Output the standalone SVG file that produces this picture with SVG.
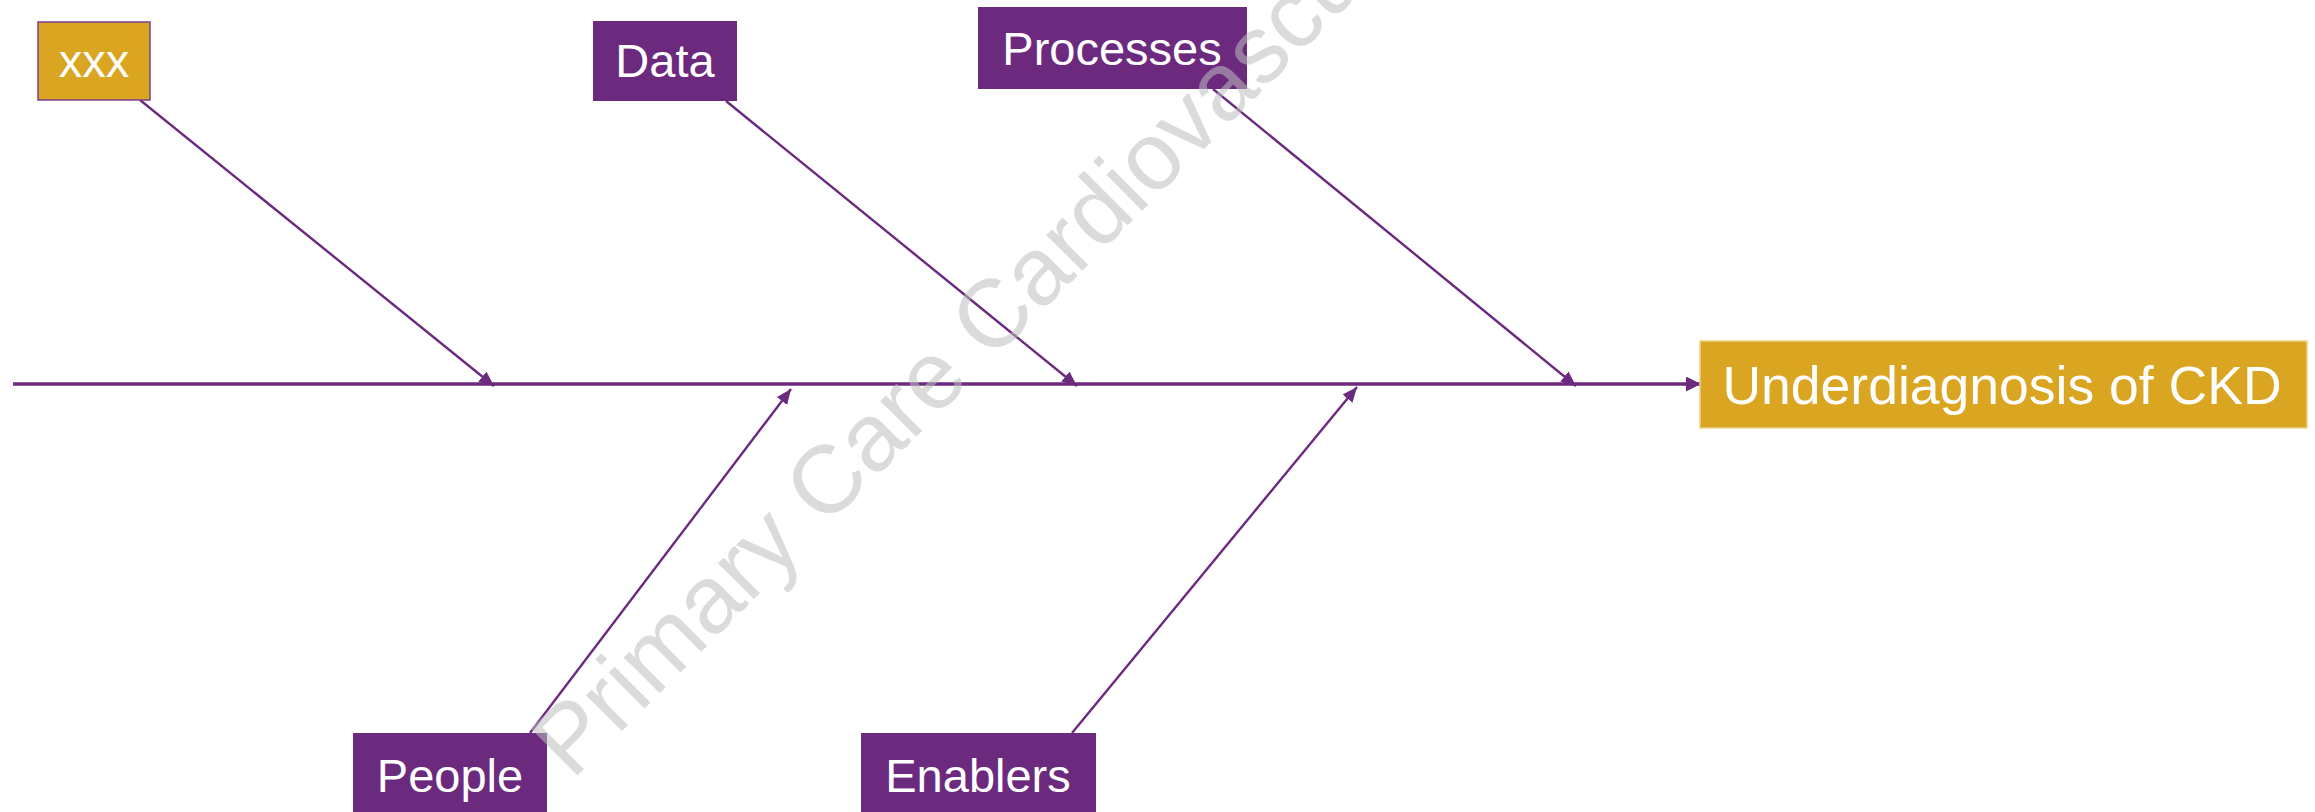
<svg xmlns="http://www.w3.org/2000/svg" width="2315" height="812" viewBox="0 0 2315 812">
<style>
  .purple { fill: #6C2A7F; }
  .gold { fill: #DAA520; }
  .lbl { font-family: "Liberation Sans", Arial, sans-serif; font-size: 47px; fill: #FFFFFF; text-anchor: middle; }
  .conn { stroke: #6C2A7F; fill: none; stroke-width: 2.4; }
  .spine { stroke: #6C2A7F; fill: none; stroke-width: 3.5; }
  .wm { font-family: "Liberation Sans", Arial, sans-serif; font-size: 96px; fill: #BDBDBD; fill-opacity: 0.55; }
</style>
<defs>
  <marker id="ah" markerUnits="userSpaceOnUse" markerWidth="16" markerHeight="14" refX="15" refY="6.5" orient="auto">
    <path d="M0,0 L15,6.5 L0,13 z" fill="#6C2A7F"/>
  </marker>
  <marker id="ahs" markerUnits="userSpaceOnUse" markerWidth="16" markerHeight="16" refX="15" refY="7.5" orient="auto">
    <path d="M0,0 L15,7.5 L0,15 z" fill="#6C2A7F"/>
  </marker>
</defs>
<rect width="2315" height="812" fill="#FFFFFF"/>
<g id="connectors">
  <line class="spine" x1="13" y1="384" x2="1701" y2="384" marker-end="url(#ahs)"/>
  <line class="conn" x1="140" y1="100" x2="494" y2="386" marker-end="url(#ah)"/>
  <line class="conn" x1="726" y1="101" x2="1077" y2="386" marker-end="url(#ah)"/>
  <line class="conn" x1="1213" y1="89" x2="1576" y2="386" marker-end="url(#ah)"/>
  <line class="conn" x1="530" y1="733" x2="791" y2="389" marker-end="url(#ah)"/>
  <line class="conn" x1="1072" y1="733" x2="1357" y2="387" marker-end="url(#ah)"/>
</g>
<g id="node-xxx">
  <rect x="38" y="22" width="112" height="78" class="gold" stroke="#7E3F8F" stroke-width="1.5"/>
  <text class="lbl" x="94" y="77">xxx</text>
</g>
<g id="node-data">
  <rect x="593" y="21" width="144" height="80" class="purple"/>
  <text class="lbl" x="665" y="77">Data</text>
</g>
<g id="node-processes">
  <rect x="978" y="7" width="269" height="82" class="purple"/>
  <text class="lbl" x="1112" y="65">Processes</text>
</g>
<g id="node-people">
  <rect x="353" y="733" width="194" height="90" class="purple"/>
  <text class="lbl" x="450" y="792">People</text>
</g>
<g id="node-enablers">
  <rect x="861" y="733" width="235" height="90" class="purple"/>
  <text class="lbl" x="978" y="792">Enablers</text>
</g>
<g id="node-effect">
  <rect x="1700" y="341" width="607" height="87" class="gold" stroke="#EDD48A" stroke-width="1.5"/>
  <text class="lbl" x="2002" y="404" style="font-size:53.5px">Underdiagnosis of CKD</text>
</g>
<text class="wm" x="572" y="781" transform="rotate(-45 572 781)">Primary Care Cardiovascular</text>
</svg>
